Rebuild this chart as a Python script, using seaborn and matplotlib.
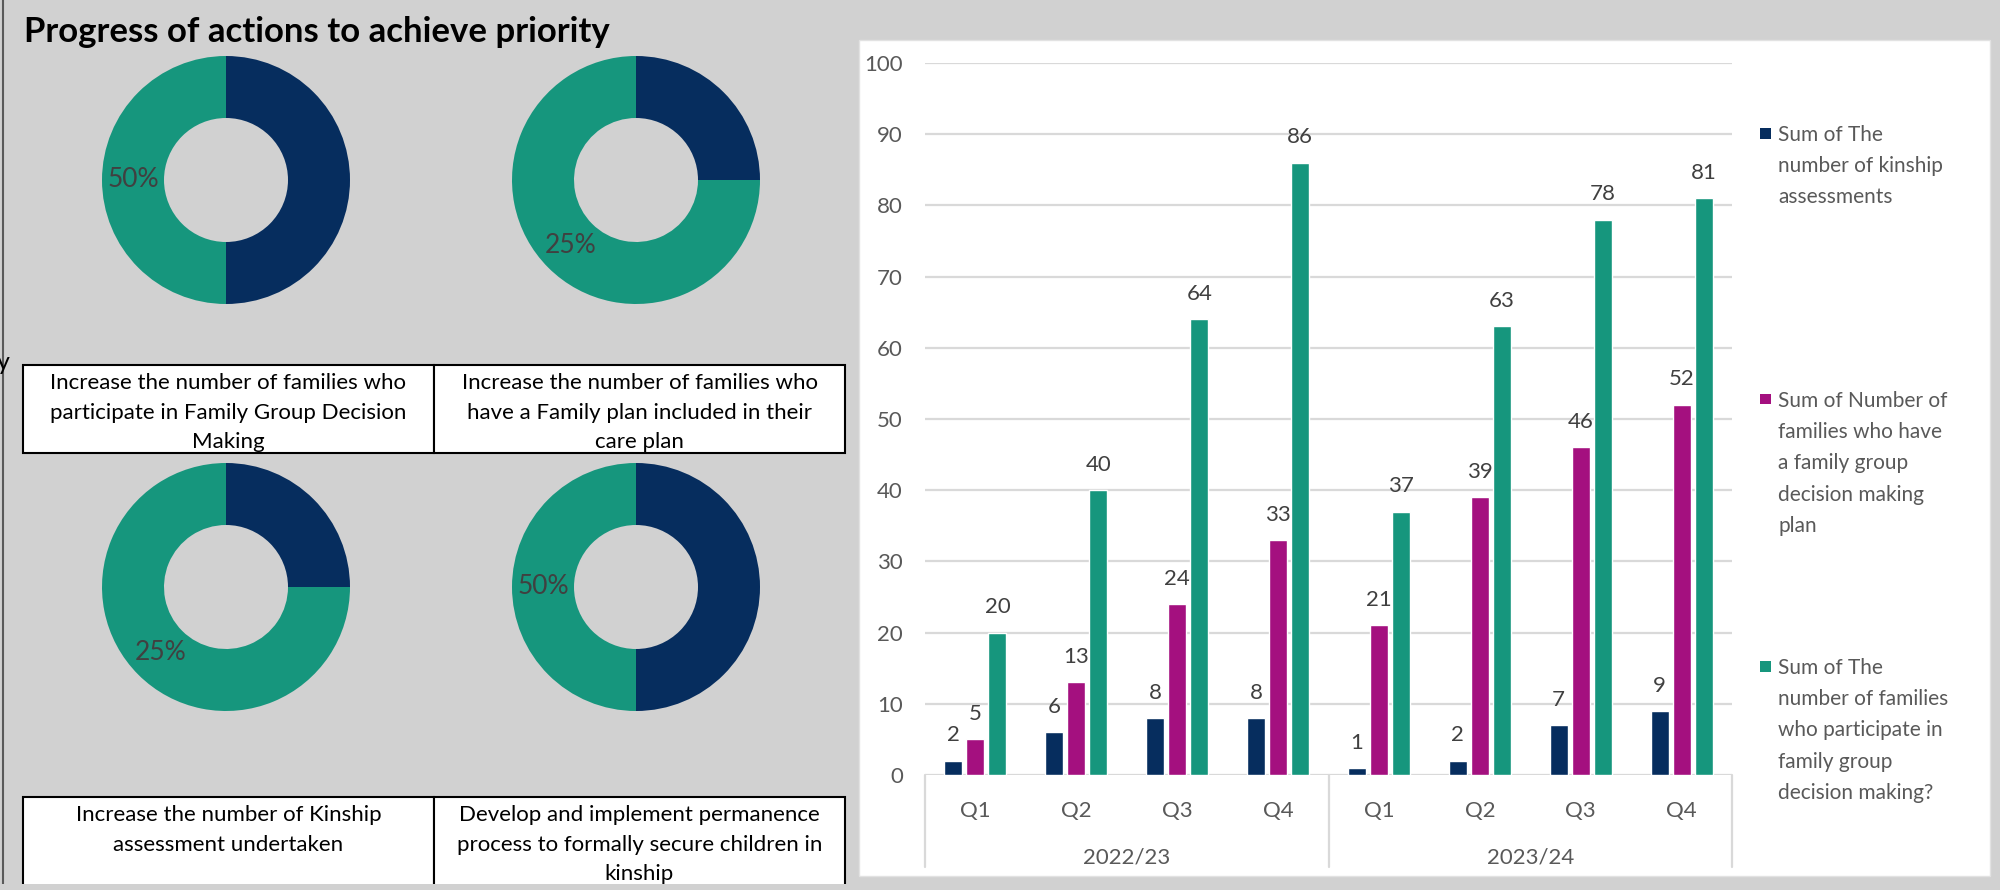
import numpy as np
import pandas as pd
import matplotlib
matplotlib.use("Agg")
import matplotlib.pyplot as plt
from matplotlib.patches import Rectangle
from matplotlib.lines import Line2D
import matplotlib.transforms as mtransforms
import seaborn as sns

# ------------------------------------------------------------------ data
title = "Progress of actions to achieve priority"
years = ["2022/23", "2023/24"]
quarters = ["Q1", "Q2", "Q3", "Q4"]
series_names = [
    "Sum of The number of kinship assessments",
    "Sum of Number of families who have a family group decision making plan",
    "Sum of The number of families who participate in family group decision making?",
]
legend_labels = [
    "Sum of The\nnumber of kinship\nassessments",
    "Sum of Number of\nfamilies who have\na family group\ndecision making\nplan",
    "Sum of The\nnumber of families\nwho participate in\nfamily group\ndecision making?",
]
kinship_assessments = [2, 6, 8, 8, 1, 2, 7, 9]
fgdm_plans = [5, 13, 24, 33, 21, 39, 46, 52]
fgdm_participation = [20, 40, 64, 86, 37, 63, 78, 81]
y_ticks = [0, 10, 20, 30, 40, 50, 60, 70, 80, 90, 100]

donut_achieved = [50, 25, 25, 50]
donut_remaining = [50, 75, 75, 50]
donut_labels = ["50%", "25%", "25%", "50%"]
action_texts = [
    "Increase the number of families who\nparticipate in Family Group Decision\nMaking",
    "Increase the number of families who\nhave a Family plan included in their\ncare plan",
    "Increase the number of Kinship\nassessment undertaken",
    "Develop and implement permanence\nprocess to formally secure children in\nkinship",
]

# ------------------------------------------------------------------ style
NAVY, MAGENTA, TEAL = "#062D5E", "#A4107F", "#16967D"
BG = "#D1D1D1"
GRID = "#D9D9D9"
TICK_C = "#595959"
LABEL_C = "#404040"

sns.set_theme(style="white")
plt.rcParams["font.family"] = ["Lato", "DejaVu Sans"]

W, H = 2000, 890
fig = plt.figure(figsize=(W / 100, H / 100), dpi=100, facecolor=BG)


def frect(x0, y0, x1, y1):
    return [x0 / W, 1 - y1 / H, (x1 - x0) / W, (y1 - y0) / H]


def fxy(x, y):
    return (x / W, 1 - y / H)


def add_rect(x0, y0, x1, y1, **kw):
    r = Rectangle(fxy(x0, y1), (x1 - x0) / W, (y1 - y0) / H,
                  transform=fig.transFigure, **kw)
    fig.add_artist(r)
    return r


# ------------------------------------------------------------------ left panel
fig.text(24 / W, 1 - 42 / H, title, fontsize=25, fontweight="bold",
         color="black", ha="left", va="baseline")
fig.text(10 / W, 1 - 370 / H, "y", fontsize=18, color="black", ha="right",
         va="baseline")
fig.add_artist(Line2D([2.5 / W, 2.5 / W], [0, 1], transform=fig.transFigure,
                      color="#5A5A5A", lw=1.5))

R = 124
centers = [(226, 180), (636, 180), (226, 587), (636, 587)]
for i, (cx, cy) in enumerate(centers):
    ax = fig.add_axes(frect(cx - R, cy - R, cx + R, cy + R))
    ax.set_facecolor("none")
    wedges, _ = ax.pie([donut_achieved[i], donut_remaining[i]],
                       colors=[NAVY, TEAL], startangle=90, counterclock=False,
                       radius=1, wedgeprops=dict(width=0.5, linewidth=0))
    ax.set_xlim(-1, 1)
    ax.set_ylim(-1, 1)
    w = wedges[1]
    ang = np.deg2rad((w.theta1 + w.theta2) / 2)
    rm = w.r - w.width / 2
    ax.text(rm * np.cos(ang), rm * np.sin(ang), donut_labels[i],
            ha="center", va="center", fontsize=19, color=LABEL_C)

# text boxes
boxes = [(23, 365, 434, 453), (434, 365, 845, 453),
         (23, 797, 434, 900), (434, 797, 845, 900)]
for i, (x0, y0, x1, y1) in enumerate(boxes):
    add_rect(x0, y0, x1, y1, facecolor="white", edgecolor="black", lw=1.5,
             zorder=2)
    fig.text((x0 + x1) / 2 / W, 1 - (y0 + 8) / H, action_texts[i],
             fontsize=16, color="black", ha="center", va="top",
             linespacing=1.6, zorder=3)
add_rect(0, 884, 858, 891, facecolor=BG, edgecolor="none", zorder=4)

# ------------------------------------------------------------------ bar chart
add_rect(859, 40, 1990, 876, facecolor="white", edgecolor="#E2E2E2", lw=1,
         zorder=-5)

cats = [f"{y} {q}" for y in years for q in quarters]
df = pd.DataFrame({
    "cat": cats * 3,
    "series": np.repeat(series_names, len(cats)),
    "value": kinship_assessments + fgdm_plans + fgdm_participation,
})

AX_X0, AX_X1, AX_Y0, AX_Y1 = 925, 1732, 63, 775
bax = fig.add_axes(frect(AX_X0, AX_Y0, AX_X1, AX_Y1))
bax.set_facecolor("none")
sns.barplot(data=df, x="cat", y="value", hue="series", order=cats,
            hue_order=series_names, palette=[NAVY, MAGENTA, TEAL],
            saturation=1, width=0.655, gap=0.18, legend=False, ax=bax,
            zorder=3)
bax.set_xlim(-0.5, len(cats) - 0.5)
bax.set_ylim(0, 100)
bax.set_yticks(y_ticks)
bax.set_xticks(range(len(cats)))
bax.set_xticklabels(quarters * len(years))
bax.set_xlabel("")
bax.set_ylabel("")
for s in bax.spines.values():
    s.set_visible(False)
bax.yaxis.grid(True, color=GRID, lw=1.6, zorder=0)
bax.set_axisbelow(True)
bax.tick_params(axis="y", length=0, pad=16, labelsize=16, labelcolor=TICK_C)
bax.tick_params(axis="x", length=0, pad=18.5, labelsize=16, labelcolor=TICK_C)

for cont in bax.containers:
    bax.bar_label(cont, padding=11, fontsize=16, color=LABEL_C)

trans = mtransforms.blended_transform_factory(bax.transData, bax.transAxes)
sep_bottom = -(867 - AX_Y1) / (AX_Y1 - AX_Y0)
for xs in [-0.5, 3.5, 7.5]:
    bax.add_line(Line2D([xs, xs], [0, sep_bottom], transform=trans,
                        color=GRID, lw=1.6, clip_on=False))
year_y = -(858 - AX_Y1) / (AX_Y1 - AX_Y0)
for j, yr in enumerate(years):
    bax.text(j * 4 + 1.5, year_y, yr, transform=trans, ha="center",
             va="center", fontsize=16, color=TICK_C)

# legend
leg_first_line = [133, 399, 666]
for i, lab in enumerate(legend_labels):
    yc = leg_first_line[i]
    add_rect(1760, yc - 5.5, 1771, yc + 5.5, facecolor=[NAVY, MAGENTA, TEAL][i],
             edgecolor="none", zorder=3)
    fig.text(1778 / W, 1 - (yc - 8) / H, lab, fontsize=15, color=TICK_C,
             ha="left", va="top", linespacing=1.70)

fig.savefig("out.png", dpi=100, facecolor=BG)
